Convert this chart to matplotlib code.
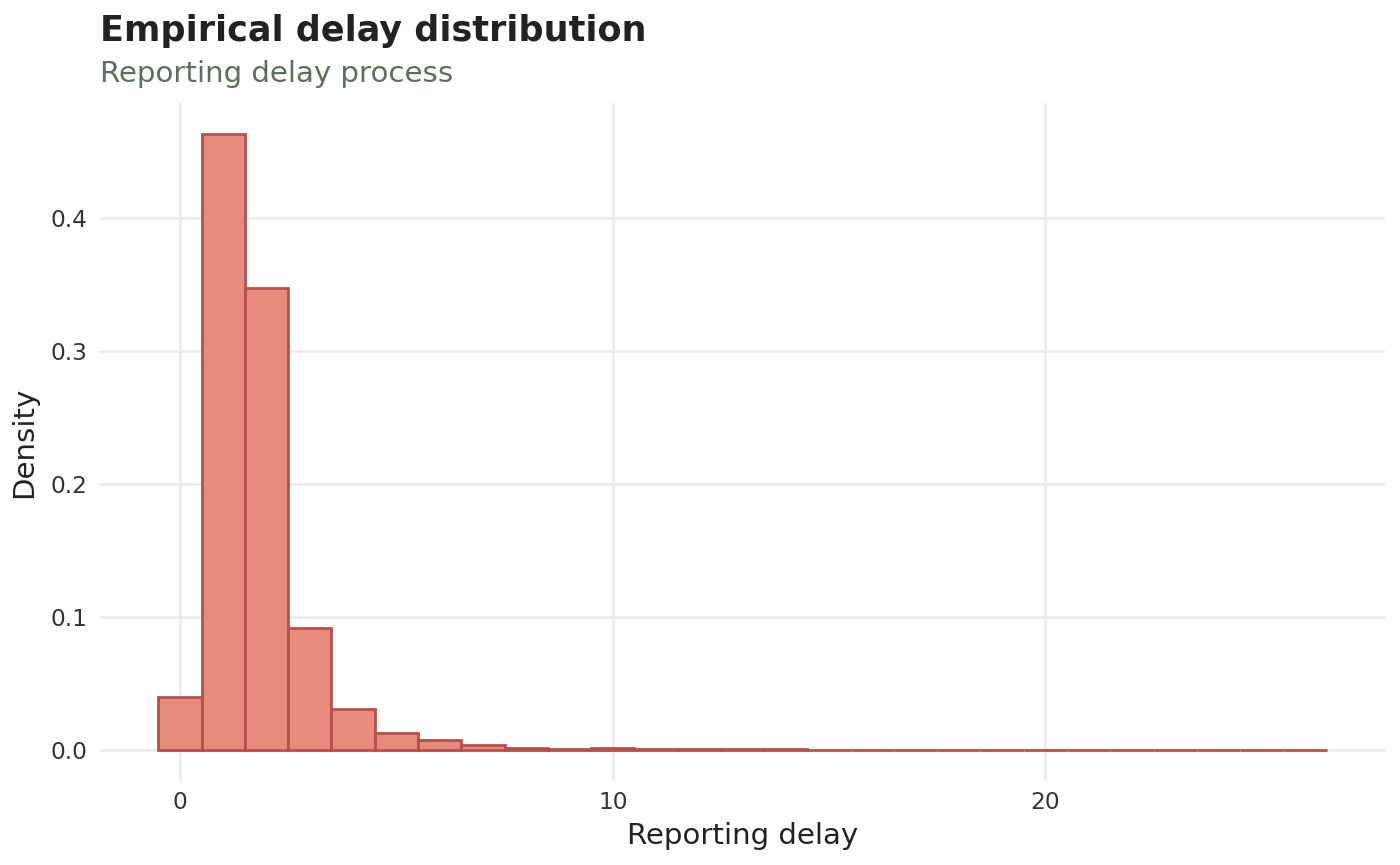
import numpy as np
import matplotlib.pyplot as plt

# delay bins (days) and empirical density
delay = [0, 1, 2, 3, 4, 5, 6, 7, 8, 9, 10, 11, 12, 13,
         14, 15, 16, 17, 18, 19, 20, 21, 22, 23, 24, 25, 26]
density = [0.040, 0.463, 0.347, 0.0917, 0.0308, 0.0128, 0.0075, 0.0038,
           0.0016, 0.0012, 0.0013, 0.0010, 0.0008, 0.0008, 0.0007, 0.0005,
           0.0003, 0.0003, 0.0003, 0.0003, 0.0002, 0.0005, 0.0002, 0.0002,
           0.0002, 0.0002, 0.0005]
xticks = [0, 10, 20]
yticks = [0.0, 0.1, 0.2, 0.3, 0.4]

W, H, DPI = 1400, 865, 180
fig = plt.figure(figsize=(W / DPI, H / DPI), dpi=DPI)
ax = fig.add_axes([100 / W, 1 - 781 / H, 1285 / W, 678 / H])

ax.bar(delay, density, width=1.0, color='#E88B7D', edgecolor='#B5504A',
       linewidth=1.1, zorder=3)

xmin, xmax = delay[0] - 0.5, delay[-1] + 0.5
xpad = 0.05 * (xmax - xmin)
ax.set_xlim(xmin - xpad, xmax + xpad)
ypad = 0.05 * max(density)
ax.set_ylim(-ypad, max(density) + ypad)

ax.set_xticks(xticks)
ax.set_yticks(yticks)
ax.set_yticklabels(['%.1f' % v for v in yticks])
ax.grid(True, color='#EBEBEB', linewidth=1.0, zorder=0)
ax.tick_params(length=0, labelsize=9.3, colors='#333333', pad=4)
ax.tick_params(axis='y', pad=5)
for s in ax.spines.values():
    s.set_visible(False)

ax.set_xlabel('Reporting delay', fontsize=11.7, color='#222222', labelpad=3)
ax.set_ylabel('Density', fontsize=11.7, color='#222222', labelpad=5)

fig.text(100 / W, 1 - 41 / H, 'Empirical delay distribution', fontsize=14,
         fontweight='bold', color='#222222', ha='left', va='baseline')
fig.text(100 / W, 1 - 82 / H, 'Reporting delay process', fontsize=11.7,
         color='#5E6E5E', ha='left', va='baseline')

fig.savefig('out.png', dpi=DPI)
